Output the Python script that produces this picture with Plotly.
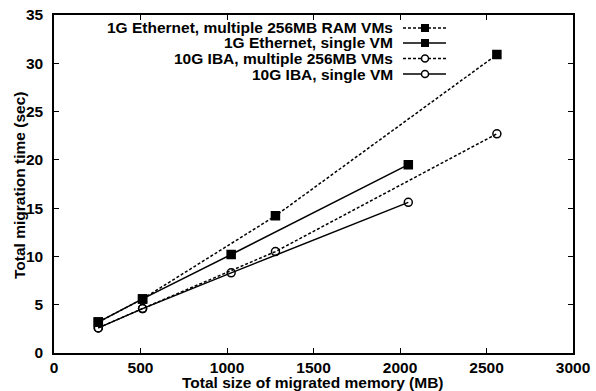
import plotly.graph_objects as go

# Data
x_1g_multi = [256, 512, 1280, 2560]
y_1g_multi = [3.2, 5.6, 14.2, 30.9]
x_1g_single = [256, 512, 1024, 2048]
y_1g_single = [3.2, 5.6, 10.2, 19.5]
x_10g_multi = [256, 512, 1280, 2560]
y_10g_multi = [2.6, 4.6, 10.5, 22.7]
x_10g_single = [256, 512, 1024, 2048]
y_10g_single = [2.6, 4.6, 8.3, 15.6]

names = ["1G Ethernet, multiple 256MB RAM VMs", "1G Ethernet, single VM",
         "10G IBA, multiple 256MB VMs", "10G IBA, single VM"]

x_ticks = [0, 500, 1000, 1500, 2000, 2500, 3000]
y_ticks = [0, 5, 10, 15, 20, 25, 30, 35]

x_title = "Total size of migrated memory (MB)"
y_title = "Total migration time (sec)"

FONT = "Liberation Sans"
FS = 15.5
DASH = "3px,2px"

fig = go.Figure()
series = [
    (x_1g_multi, y_1g_multi, DASH, "square"),
    (x_1g_single, y_1g_single, "solid", "square"),
    (x_10g_multi, y_10g_multi, DASH, "circle-open"),
    (x_10g_single, y_10g_single, "solid", "circle-open"),
]
for (xs, ys, dash, sym), nm in zip(series, names):
    fig.add_trace(go.Scatter(
        x=xs, y=ys, mode="lines+markers", name=nm,
        line=dict(color="black", width=1.5, dash=dash),
        marker=dict(symbol=sym, size=8, color="black",
                    line=dict(color="black", width=1.5)),
        showlegend=False,
    ))

# Custom legend (text right-aligned, key sample on the right)
W, H = 596, 391
ml, mr, mt, mb = 54, 23, 15, 38
pw, ph = W - ml - mr, H - mt - mb
text_right_px = 394
line_x0_px, line_x1_px, mark_px = 403, 446, 425
row_y_px = [28, 43, 58.5, 74]

def px_to_paper_x(px):
    return (px - ml) / pw

def px_to_paper_y(py):
    return 1 - (py - mt) / ph

annotations = []
shapes = []
for (xs, ys, dash, sym), nm, ry in zip(series, names, row_y_px):
    yp = px_to_paper_y(ry)
    annotations.append(dict(
        x=px_to_paper_x(text_right_px), y=yp, xref="paper", yref="paper",
        xanchor="right", yanchor="middle", text="<b>" + nm + "</b>", showarrow=False,
        borderpad=0, font=dict(family=FONT, size=FS, color="black")))
    shapes.append(dict(
        type="line", xref="paper", yref="paper",
        x0=px_to_paper_x(line_x0_px), x1=px_to_paper_x(line_x1_px), y0=yp, y1=yp,
        line=dict(color="black", width=1.5, dash=dash)))
    if sym == "square":
        shapes.append(dict(
            type="rect", xref="paper", yref="paper", xsizemode="pixel", ysizemode="pixel",
            xanchor=px_to_paper_x(mark_px), yanchor=yp,
            x0=-4, x1=4, y0=-4, y1=4, fillcolor="black", line=dict(width=0)))
    else:
        shapes.append(dict(
            type="circle", xref="paper", yref="paper", xsizemode="pixel", ysizemode="pixel",
            xanchor=px_to_paper_x(mark_px), yanchor=yp,
            x0=-3.5, x1=3.5, y0=-3.5, y1=3.5, fillcolor="white",
            line=dict(color="black", width=1.5)))

# Axis titles as annotations for exact placement
annotations.append(dict(
    x=px_to_paper_x(313), y=px_to_paper_y(382), xref="paper", yref="paper",
    xanchor="center", yanchor="middle", text="<b>" + x_title + "</b>", showarrow=False,
    borderpad=0, font=dict(family=FONT, size=FS, color="black")))
annotations.append(dict(
    x=px_to_paper_x(19), y=px_to_paper_y(186), xref="paper", yref="paper",
    xanchor="center", yanchor="middle", text="<b>" + y_title + "</b>", showarrow=False,
    textangle=-90, borderpad=0, font=dict(family=FONT, size=FS, color="black")))

fig.update_layout(
    width=W, height=H,
    margin=dict(l=ml, r=mr, t=mt, b=mb, autoexpand=False),
    paper_bgcolor="white", plot_bgcolor="white",
    font=dict(family=FONT, size=FS, color="black"),
    annotations=annotations, shapes=shapes,
    showlegend=False,
)
fig.update_xaxes(
    range=[0, 3000], tickvals=x_ticks, ticktext=["<b>%d</b>" % v for v in x_ticks],
    ticks="inside", ticklen=5, tickwidth=1, tickcolor="black",
    showline=True, linecolor="black", linewidth=1.5, mirror="ticks",
    showgrid=False, zeroline=False, automargin=False, ticklabelstandoff=0,
    tickfont=dict(family=FONT, size=FS, color="black"),
)
fig.update_yaxes(
    range=[0, 35], tickvals=y_ticks, ticktext=["<b>%d</b>" % v for v in y_ticks],
    ticks="inside", ticklen=5, tickwidth=1, tickcolor="black",
    showline=True, linecolor="black", linewidth=1.5, mirror="ticks",
    showgrid=False, zeroline=False, automargin=False, ticklabelstandoff=6,
    tickfont=dict(family=FONT, size=FS, color="black"),
)

fig.write_html("out.html", config={"displayModeBar": False},
               post_script="document.body.style.margin='0';document.body.style.padding='0';")
